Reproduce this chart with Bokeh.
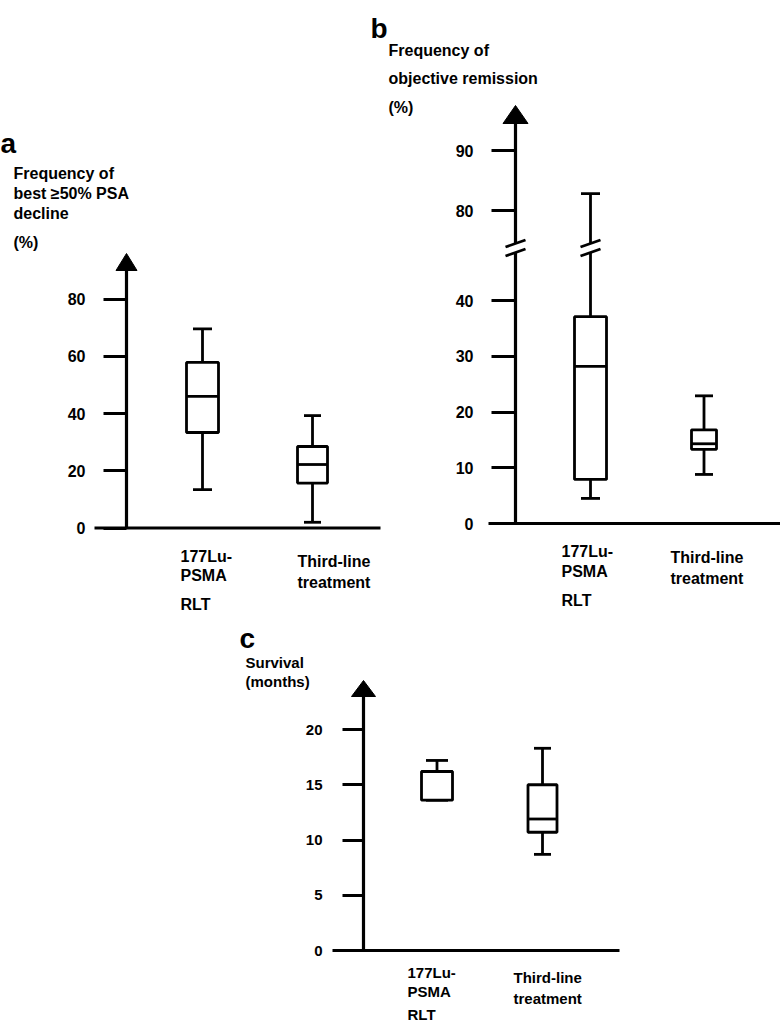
from bokeh.plotting import figure
from bokeh.models import Range1d, LinearAxis, FixedTicker, ColumnDataSource, Label
from bokeh.core.properties import value
from bokeh.embed import file_html
from bokeh.resources import INLINE

# ------------------------------------------------------------------ data
categories = ["177Lu-PSMA RLT", "Third-line treatment"]
category_lines = [["177Lu-", "PSMA", "RLT"], ["Third-line", "treatment"]]

# (a) frequency of best >=50% PSA decline (%)
psa_low = [13.4, 2.0]
psa_q1 = [33.4, 15.7]
psa_med = [46.0, 22.2]
psa_q3 = [57.9, 28.5]
psa_high = [69.6, 39.3]
psa_ticks = [0, 20, 40, 60, 80]

# (b) frequency of objective remission (%)
orr_low = [4.5, 8.8]
orr_q1 = [7.9, 13.3]
orr_med = [28.2, 14.3]
orr_q3 = [37.1, 16.8]
orr_high = [82.8, 22.9]
orr_ticks_lower = [0, 10, 20, 30, 40]
orr_ticks_upper = [80, 90]

# (c) survival (months)
os_low = [13.6, 8.7]
os_q1 = [13.6, 10.7]
os_med = [16.2, 11.9]
os_q3 = [16.2, 15.0]
os_high = [17.2, 18.3]
os_ticks = [0, 5, 10, 15, 20]

title_a = ["Frequency of", "best \u226550% PSA", "decline", "(%)"]
title_b = ["Frequency of", "objective remission", "(%)"]
title_c = ["Survival", "(months)"]

# ------------------------------------------------------------------ layout / style
FONT = "Liberation Sans"
INK = "black"
W, H = 780, 1025
PX0, PY0 = 0, 0            # page position of the figure
PX1, PY1 = PX0 + W, PY0 + H
LW_BOX = 2.8
LW_AXIS = 3.2


def xrange_from(v, px, s):
    return Range1d(v + (PX0 - px) / s, v + (PX1 - px) / s)


def yrange_from(v, py, s):
    return Range1d(v - (PY1 - py) / s, v + (py - PY0) / s)


p = figure(width=W, height=H, output_backend="svg", toolbar_location=None, tools="",
           x_range=Range1d(PX0, PX1), y_range=Range1d(PY1, PY0),
           x_axis_location=None, y_axis_location=None, min_border=0,
           outline_line_color=None, background_fill_color="white",
           border_fill_color="white")
p.grid.grid_line_color = None

# panel scales (category 1 / 2 at x = 1 / 2)
A = dict(cx=202, sx=110, y0=527.5, sy=2.86)
B = dict(cx=590, sx=113.5, y0=523, sy=5.575, up_v=80, up_py=210, up_sy=6.0)
C = dict(cx=436.5, sx=105.5, y0=950, sy=11.05)

p.extra_x_ranges = {
    "ax": xrange_from(1, A["cx"], A["sx"]),
    "bx": xrange_from(1, B["cx"], B["sx"]),
    "cx": xrange_from(1, C["cx"], C["sx"]),
}
p.extra_y_ranges = {
    "ay": yrange_from(0, A["y0"], A["sy"]),
    "by": yrange_from(0, B["y0"], B["sy"]),
    "byu": yrange_from(B["up_v"], B["up_py"], B["up_sy"]),
    "cy": yrange_from(0, C["y0"], C["sy"]),
}


def add_yaxis(yname, ticks, axis_px, tick_len, standoff, fs):
    ax = LinearAxis(y_range_name=yname, fixed_location=axis_px,
                    ticker=FixedTicker(ticks=ticks))
    ax.axis_line_color = None
    ax.major_tick_out = tick_len
    ax.major_tick_in = 0
    ax.major_tick_line_width = 3
    ax.major_tick_line_color = INK
    ax.minor_tick_line_color = None
    ax.major_label_standoff = standoff
    ax.major_label_text_font = FONT
    ax.major_label_text_font_style = "bold"
    ax.major_label_text_font_size = f"{fs}px"
    ax.major_label_text_color = INK
    p.add_layout(ax, "left")


def axis_frame(axis_px, zero_py, tip_py, head_base_py, head_w, base_from, base_to):
    p.segment(x0=axis_px, y0=zero_py, x1=axis_px, y1=head_base_py,
              line_color=INK, line_width=LW_AXIS)
    p.patch(x=[axis_px - head_w / 2, axis_px + head_w / 2, axis_px],
            y=[head_base_py, head_base_py, tip_py],
            fill_color=INK, line_color=INK, line_width=1)
    p.segment(x0=base_from, y0=zero_py, x1=base_to, y1=zero_py,
              line_color=INK, line_width=LW_AXIS)


def box_source(low, q1, med, q3, high, box_w, cap_w, sx):
    xs = [i + 1 for i in range(len(q1))]
    hb = [w / 2 / sx for w in box_w]
    hc = [w / 2 / sx for w in cap_w]
    return ColumnDataSource(dict(
        x=xs,
        left=[x - h for x, h in zip(xs, hb)], right=[x + h for x, h in zip(xs, hb)],
        cl=[x - h for x, h in zip(xs, hc)], cr=[x + h for x, h in zip(xs, hc)],
        low=low, q1=q1, med=med, q3=q3, high=high))


def draw_boxes(src, xname, yname, upper=True):
    kw = dict(source=src, x_range_name=xname, y_range_name=yname,
              line_color=INK, line_width=LW_BOX)
    p.segment(x0="x", y0="q1", x1="x", y1="low", **kw)
    p.segment(x0="cl", y0="low", x1="cr", y1="low", **kw)
    if upper:
        p.segment(x0="x", y0="q3", x1="x", y1="high", **kw)
        p.segment(x0="cl", y0="high", x1="cr", y1="high", **kw)
    p.quad(left="left", right="right", bottom="q1", top="q3",
           fill_color="white", **kw)
    p.segment(x0="left", y0="med", x1="right", y1="med", **kw)


def cat_labels(xname, dx, baselines, fs):
    xs, ys, txt, xo = [], [], [], []
    for i, lines in enumerate(category_lines):
        for j, t in enumerate(lines):
            xs.append(i + 1)
            ys.append(baselines[i][j])
            txt.append(t)
            xo.append(dx[i])
    src = ColumnDataSource(dict(x=xs, y=ys, text=txt, xo=xo))
    p.text(x="x", y="y", text="text", x_offset="xo", source=src, x_range_name=xname,
           text_font=value(FONT), text_font_style="bold", text_font_size=f"{fs}px",
           text_baseline="alphabetic", text_align="left", text_color=INK)


def text_block(lines, x, baselines, fs):
    for t, y in zip(lines, baselines):
        p.add_layout(Label(x=x, y=y, text=t, text_font=FONT, text_font_style="bold",
                           text_font_size=f"{fs}px", text_baseline="alphabetic",
                           text_align="left", text_color=INK))


# ------------------------------------------------------------------ panel a
axis_frame(126, A["y0"], 253, 270, 21, 94, 380)
add_yaxis("ay", psa_ticks, 126, 23, 18, 16)
draw_boxes(box_source(psa_low, psa_q1, psa_med, psa_q3, psa_high, [32, 30], [19, 17], A["sx"]),
           "ax", "ay")
cat_labels("ax", [-22, -15], [[556, 575, 604], [560.7, 581.7]], 16)
text_block(["a"], 0, [143], 28)
text_block(title_a, 13, [172.7, 192.7, 212.5, 242], 16)

# ------------------------------------------------------------------ panel b (broken axis)
BX = 515
BRK_LO, BRK_HI = 252, 243          # page y of the two break slashes
p.segment(x0=BX, y0=B["y0"], x1=BX, y1=BRK_LO, line_color=INK, line_width=LW_AXIS)
p.segment(x0=BX, y0=BRK_HI, x1=BX, y1=123, line_color=INK, line_width=LW_AXIS)
p.patch(x=[BX - 12.5, BX + 12.5, BX], y=[123, 123, 105], fill_color=INK, line_color=INK)
p.segment(x0=488, y0=B["y0"], x1=PX1, y1=B["y0"], line_color=INK, line_width=LW_AXIS)
add_yaxis("by", orr_ticks_lower, BX, 24, 18, 16)
add_yaxis("byu", orr_ticks_upper, BX, 24, 18, 16)

lower_break_v = (B["y0"] - BRK_LO) / B["sy"]
upper_break_v = B["up_v"] + (B["up_py"] - BRK_HI) / B["up_sy"]
src_b = box_source(orr_low, orr_q1, orr_med, orr_q3, orr_high, [32, 25], [19, 18], B["sx"])
draw_boxes(src_b, "bx", "by", upper=False)
brk = orr_ticks_lower[-1] + 10
d = src_b.data
for i in range(len(orr_high)):
    kw = dict(line_color=INK, line_width=LW_BOX, x_range_name="bx")
    if orr_high[i] > brk:
        p.segment(x0=d["x"][i], y0=orr_q3[i], x1=d["x"][i], y1=lower_break_v,
                  y_range_name="by", **kw)
        p.segment(x0=d["x"][i], y0=upper_break_v, x1=d["x"][i], y1=orr_high[i],
                  y_range_name="byu", **kw)
        p.segment(x0=d["cl"][i], y0=orr_high[i], x1=d["cr"][i], y1=orr_high[i],
                  y_range_name="byu", **kw)
        hs = 10 / B["sx"]
        for yb in (BRK_LO, BRK_HI):
            p.segment(x0=d["x"][i] - hs, y0=yb + 3.5, x1=d["x"][i] + hs, y1=yb - 3.5, **kw)
    else:
        p.segment(x0=d["x"][i], y0=orr_q3[i], x1=d["x"][i], y1=orr_high[i],
                  y_range_name="by", **kw)
        p.segment(x0=d["cl"][i], y0=orr_high[i], x1=d["cr"][i], y1=orr_high[i],
                  y_range_name="by", **kw)
for yb in (BRK_LO, BRK_HI):
    p.segment(x0=BX - 10, y0=yb + 3.5, x1=BX + 10, y1=yb - 3.5,
              line_color=INK, line_width=LW_BOX)
cat_labels("bx", [-29, -33.5], [[551, 570.7, 599.7], [557, 578.3]], 16)
text_block(["b"], 370, [28.3], 28)
text_block(title_b, 388, [49.5, 77.7, 107], 16)

# ------------------------------------------------------------------ panel c
axis_frame(363, C["y0"], 680, 696, 24, 332, 619)
add_yaxis("cy", os_ticks, 363, 21, 20, 15)
draw_boxes(box_source(os_low, os_q1, os_med, os_q3, os_high, [31, 29], [22, 17], C["sx"]),
           "cx", "cy")
cat_labels("cx", [-29.5, -29], [[972, 991, 1014], [977.3, 997.7]], 15)
text_block(["c"], 239, [638], 28)
text_block(title_c, 245, [661.7, 681], 15)

open("out.html", "w").write(file_html(p, INLINE))
